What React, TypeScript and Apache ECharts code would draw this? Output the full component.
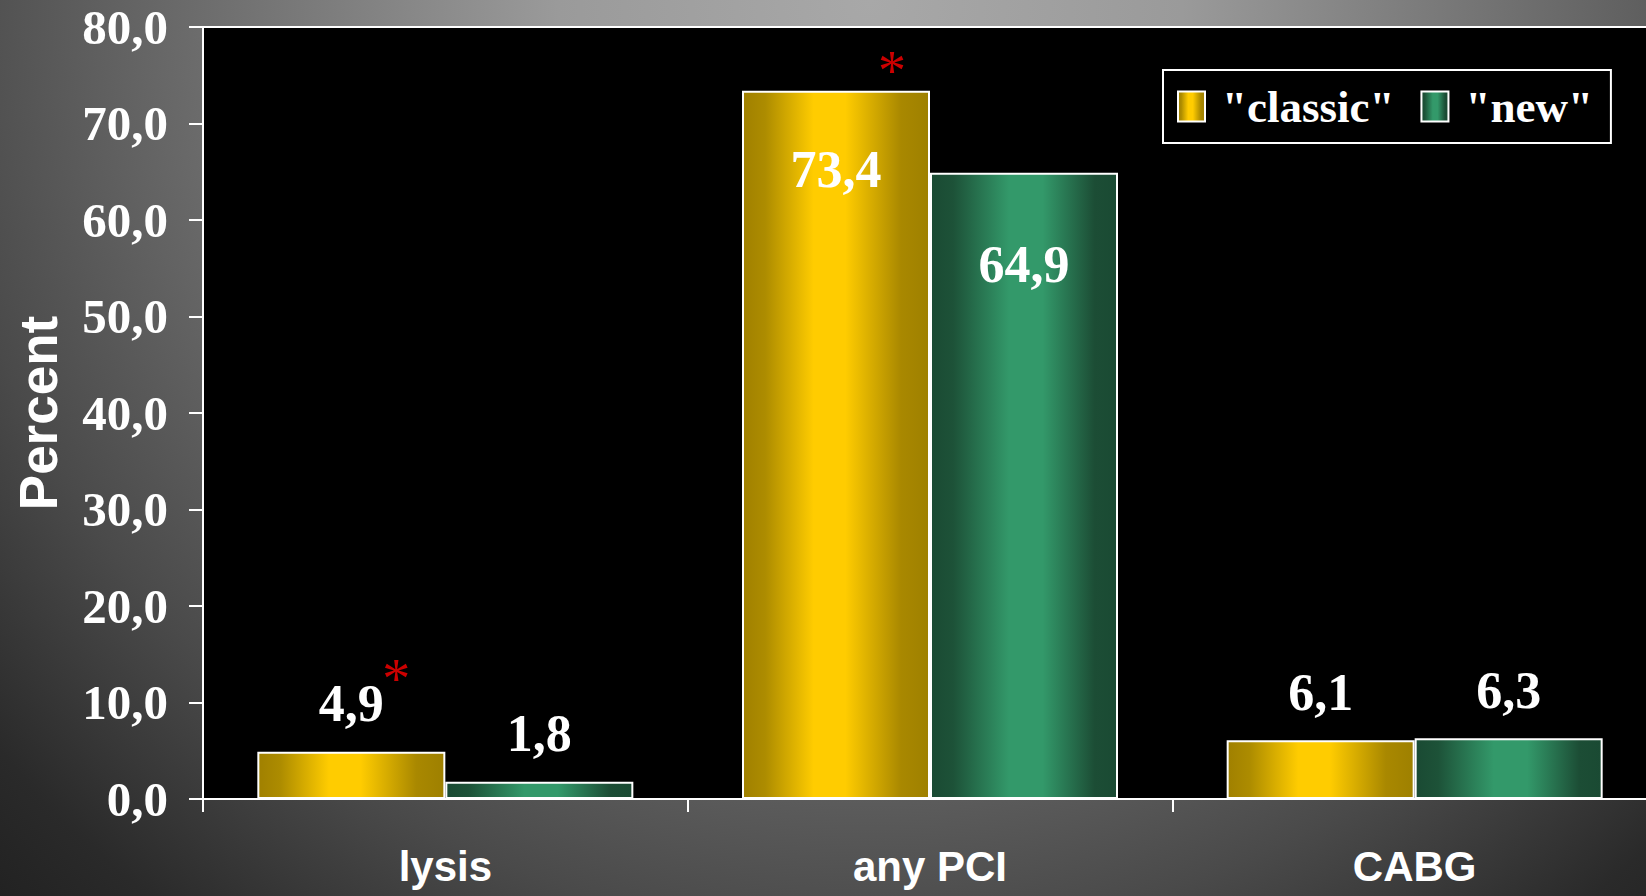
import React, { useEffect, useRef } from "react";
import * as echarts from "echarts";

const categories = ["lysis", "any PCI", "CABG"];
const classicValues = [4.9, 73.4, 6.1];
const newValues = [1.8, 64.9, 6.3];
const yTicks = { min: 0, max: 80, interval: 10 };
const seriesNames = ['"classic"', '"new"'];
const asteriskMarks = [
  { category: "lysis", value: 4.9 },
  { category: "any PCI", value: 73.4 },
];

const fmt = (v: number) => v.toFixed(1).replace(".", ",");

export default function App() {
  const ref = useRef<HTMLDivElement>(null);
  useEffect(() => {
    document.body.style.margin = "0";
    if (!ref.current) return;
    const chart = echarts.init(ref.current, null, { renderer: "svg" });
    const serif = "'Liberation Serif', 'Times New Roman', serif";
    const sans = "'Liberation Sans', Arial, sans-serif";
    const gold = new echarts.graphic.LinearGradient(0, 0, 1, 0, [
      { offset: 0, color: "#a08000" },
      { offset: 0.12, color: "#ad8c00" },
      { offset: 0.38, color: "#ffcc00" },
      { offset: 0.55, color: "#ffcc00" },
      { offset: 0.85, color: "#a98800" },
      { offset: 1, color: "#9e8000" },
    ]);
    const green = new echarts.graphic.LinearGradient(0, 0, 1, 0, [
      { offset: 0, color: "#1a4a33" },
      { offset: 0.12, color: "#1d5238" },
      { offset: 0.42, color: "#33996a" },
      { offset: 0.6, color: "#33996a" },
      { offset: 0.88, color: "#1c4d35" },
      { offset: 1, color: "#1a4a33" },
    ]);
    const labelBase = {
      show: true,
      position: "top",
      distance: 22,
      color: "#fff",
      fontFamily: serif,
      fontWeight: "bold",
      fontSize: 52,
      formatter: (p: any) => fmt(p.value),
    };
    const insideDist: Record<string, number> = { "73.4": 53, "64.9": 66 };
    const mkData = (vals: number[]) =>
      vals.map((v) =>
        insideDist[String(v)] !== undefined
          ? { value: v, label: { position: "insideTop", distance: insideDist[String(v)] } }
          : { value: v }
      );
    const asteriskOffsets = [
      [45, -73],
      [56, -20],
    ];
    chart.setOption({
      animation: false,
      backgroundColor: "transparent",
      grid: {
        left: 203,
        top: 27,
        width: 1454,
        height: 772,
        show: true,
        backgroundColor: "#000",
        borderColor: "#fff",
        borderWidth: 2,
        containLabel: false,
        outerBoundsMode: "none",
      },
      legend: {
        left: 1163,
        top: 70,
        orient: "horizontal",
        backgroundColor: "#000",
        borderColor: "#fff",
        borderWidth: 2,
        padding: [14, 18, 14, 14],
        itemWidth: 27,
        itemHeight: 30,
        itemGap: 26,
        icon: "rect",
        itemStyle: { borderColor: "#fff", borderWidth: 2 },
        textStyle: {
          color: "#fff",
          fontFamily: serif,
          fontWeight: "bold",
          fontSize: 45,
          padding: [0, 0, 0, 12],
        },
        data: seriesNames,
      },
      xAxis: {
        type: "category",
        data: categories,
        axisLine: { show: true, lineStyle: { color: "#fff", width: 2 } },
        axisTick: { show: true, length: 13, lineStyle: { color: "#fff", width: 2 } },
        axisLabel: {
          color: "#fff",
          fontFamily: sans,
          fontWeight: "bold",
          fontSize: 42,
          margin: 46,
        },
        splitLine: { show: false },
      },
      yAxis: {
        type: "value",
        min: yTicks.min,
        max: yTicks.max,
        interval: yTicks.interval,
        name: "Percent",
        nameLocation: "middle",
        nameRotate: 90,
        nameGap: 138,
        nameTextStyle: {
          color: "#fff",
          fontFamily: sans,
          fontWeight: "bold",
          fontSize: 53,
        },
        axisLine: { show: true, lineStyle: { color: "#fff", width: 2 } },
        axisTick: { show: true, length: 14, lineStyle: { color: "#fff", width: 2 } },
        axisLabel: {
          color: "#fff",
          fontFamily: serif,
          fontWeight: "bold",
          fontSize: 49,
          margin: 35,
          formatter: (v: number) => fmt(v),
        },
        splitLine: { show: false },
      },
      series: [
        {
          name: seriesNames[0],
          type: "bar",
          barWidth: 188,
          barGap: "0%",
          data: mkData(classicValues),
          itemStyle: { color: gold, borderColor: "#fff", borderWidth: 2 },
          label: labelBase,
          markPoint: {
            symbol: "circle",
            symbolSize: 1,
            itemStyle: { color: "rgba(0,0,0,0)" },
            label: {
              show: true,
              position: "inside",
              formatter: "*",
              color: "#cc0000",
              fontFamily: serif,
              fontSize: 56,
            },
            data: asteriskMarks.map((m, i) => ({
              coord: [m.category, m.value],
              label: { offset: asteriskOffsets[i] },
            })),
          },
        },
        {
          name: seriesNames[1],
          type: "bar",
          barWidth: 188,
          barGap: "0%",
          data: mkData(newValues),
          itemStyle: { color: green, borderColor: "#fff", borderWidth: 2 },
          label: labelBase,
        },
      ],
    });
    return () => chart.dispose();
  }, []);
  return (
    <div
      ref={ref}
      style={{
        width: 1646,
        height: 896,
        background:
          "radial-gradient(circle 1250px at 870px 0px, #a8a8a8 0%, #9a9a9a 25%, #6a6a6a 55%, #4a4a4a 75%, #2a2a2a 92%, #222 100%)",
      }}
    />
  );
}
